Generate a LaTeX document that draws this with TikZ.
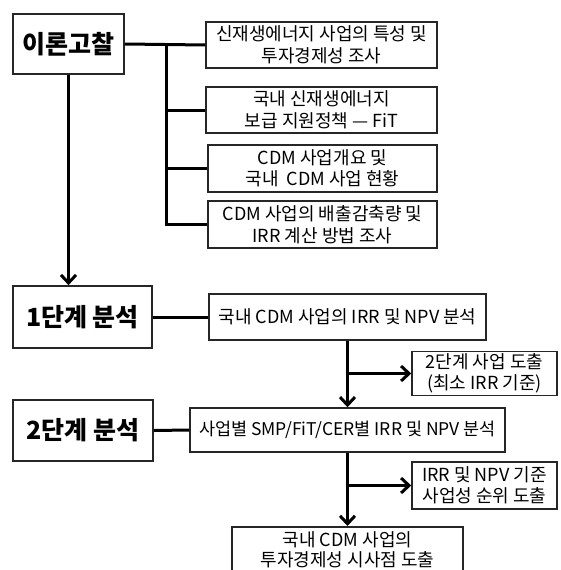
\documentclass[tikz,border=0pt]{standalone}
\usepackage{fontspec}
\setmainfont{Noto Sans CJK KR}
\usetikzlibrary{arrows.meta}
\begin{document}
\begin{tikzpicture}[x=1pt,y=-1pt,
  box/.style={draw=black!85,line width=1.5pt,rectangle,inner sep=0pt,align=center,
    font=\fontsize{18}{21.5}\selectfont},
  title/.style={draw=black!85,line width=1.7pt,rectangle,inner sep=0pt,align=center,
    font=\fontsize{25}{28}\selectfont\bfseries},
  conn/.style={line width=3pt,black},
  arr/.style={conn,-{Straight Barb[length=8pt,width=15pt]}}
]
\clip (0,0) rectangle (561,570);
\fill[white] (0,0) rectangle (561,570);
% titles
\node[title,minimum width=111pt,minimum height=60pt] (T0) at (68.5,44) {이론고찰};
\node[title,minimum width=139pt,minimum height=62pt] (T1) at (82.5,317) {1단계 분석};
\node[title,minimum width=140pt,minimum height=61pt] (T2) at (83,430.5) {2단계 분석};
% theory boxes
\node[box,minimum width=231pt,minimum height=46pt] (B1) at (321.5,45) {신재생에너지 사업의 특성 및\\투자경제성 조사};
\node[box,minimum width=231pt,minimum height=46pt] (B2) at (321.5,110) {국내 신재생에너지\\보급 지원정책 — FiT};
\node[box,minimum width=229pt,minimum height=47pt] (B3) at (322.5,168.5) {CDM 사업개요 및\\국내 \ CDM 사업 현황};
\node[box,minimum width=229pt,minimum height=47pt] (B4) at (322.5,224.5) {CDM 사업의 배출감축량 및\\IRR 계산 방법 조사};
% stage boxes
\node[box,minimum width=277pt,minimum height=46pt] (C1) at (347.5,317) {국내 CDM 사업의 IRR 및 NPV 분석};
\node[box,minimum width=145pt,minimum height=44pt] (S1) at (484.5,373.5) {2단계 사업 도출\\(최소 IRR 기준)};
\node[box,minimum width=315pt,minimum height=44pt,font=\fontsize{17.5}{21}\selectfont] (C2) at (347.5,430) {사업별 SMP/FiT/CER별 IRR 및 NPV 분석};
\node[box,minimum width=145pt,minimum height=47pt] (S2) at (484.5,485.5) {IRR 및 NPV 기준\\사업성 순위 도출};
\node[box,minimum width=231pt,minimum height=46pt,anchor=north,font=\fontsize{18}{20.5}\selectfont] (F) at (347.5,526) {국내 CDM 사업의\\투자경제성 시사점 도출};
% connectors
\coordinate (j) at (166,44);
\draw[conn] (T0.east) -- (B1.west);
\draw[conn] (j) |- (B2.west);
\draw[conn] (j) |- (B3.west);
\draw[conn] (j) |- (B4.west);
\draw[arr] (T0.south) -- (T0.south |- T1.north);
\draw[conn] (T1.east) -- (C1.west);
\draw[conn] (T2.east) -- (C2.west);
\draw[arr] (C1.south) -- (C2.north);
\draw[arr] (C1.south |- S1.west) -- (S1.west);
\draw[arr] (C2.south) -- (F.north);
\draw[arr] (C2.south |- S2.west) -- (S2.west);
\end{tikzpicture}
\end{document}
